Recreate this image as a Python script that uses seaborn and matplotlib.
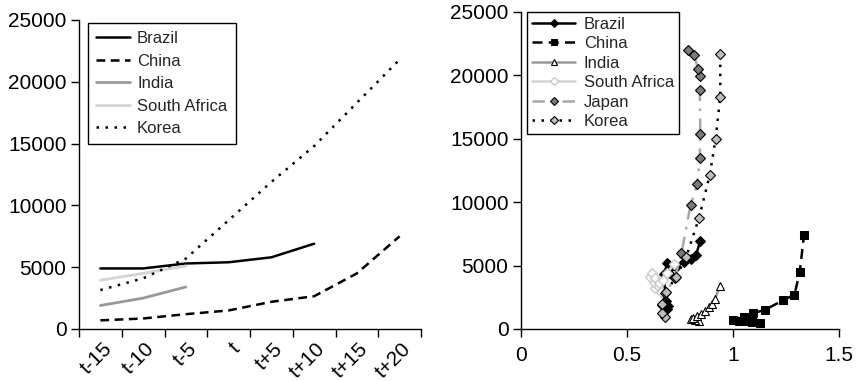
import numpy as np
import pandas as pd
import matplotlib
matplotlib.use("Agg")
import matplotlib.pyplot as plt
import matplotlib.transforms as mtransforms
import seaborn as sns

# ---------------- data: left panel (GDP per capita by period) ----------------
periods = ["t-15", "t-10", "t-5", "t", "t+5", "t+10", "t+15", "t+20"]
brazil_left = [4900, 4900, 5300, 5400, 5800, 6900]
china_left = [700, 850, 1200, 1500, 2200, 2650, 4500, 7500]
india_left = [1900, 2500, 3400]
safrica_left = [3950, 4500, 5100]
korea_left = [3150, 4100, 5700, 8800, 11900, 14800, 18300, 21800]

# ---------------- data: right panel (ratio vs GDP per capita) ----------------
brazil_x = [0.69, 0.695, 0.685, 0.68, 0.675, 0.69, 0.70, 0.73, 0.77, 0.80, 0.825, 0.845]
brazil_y = [1600, 1800, 2200, 2800, 4300, 5200, 4400, 4900, 5300, 5500, 5800, 6900]
china_x = [1.125, 1.09, 1.06, 1.03, 1.0, 1.05, 1.095, 1.15, 1.235, 1.29, 1.315, 1.335]
china_y = [450, 550, 600, 650, 700, 950, 1250, 1500, 2250, 2700, 4500, 7400]
india_x = [0.84, 0.82, 0.80, 0.81, 0.83, 0.85, 0.87, 0.885, 0.90, 0.915, 0.94]
india_y = [600, 700, 800, 900, 1000, 1200, 1400, 1700, 2000, 2400, 3400]
safrica_x = [0.66, 0.63, 0.64, 0.625, 0.61, 0.62, 0.63, 0.65, 0.67, 0.69, 0.72]
safrica_y = [2900, 3200, 3500, 3700, 4100, 4400, 4000, 3600, 3900, 4400, 5100]
japan_x = [0.665, 0.68, 0.725, 0.757, 0.80, 0.832, 0.843, 0.846, 0.843, 0.846, 0.835, 0.816, 0.788]
japan_y = [1900, 2800, 4000, 5950, 9800, 11400, 13500, 15400, 18800, 19900, 20500, 21600, 22000]
korea_x = [0.68, 0.665, 0.665, 0.685, 0.73, 0.78, 0.84, 0.89, 0.918, 0.94, 0.94]
korea_y = [950, 1300, 2000, 2900, 4100, 5700, 8770, 12100, 15000, 18300, 21700]

# ---------------- style ----------------
sns.set_theme(style="ticks")
plt.rcParams['font.family'] = ['Liberation Sans', 'DejaVu Sans']
plt.rcParams['axes.edgecolor'] = 'black'
plt.rcParams['xtick.color'] = 'black'
plt.rcParams['ytick.color'] = 'black'

TICK_FS = 15
LEG_FS = 12

fig = plt.figure(figsize=(8.58, 3.81), dpi=100)
W, H = 858, 381
axL = fig.add_axes([79 / W, 1 - 329 / H, (421 - 79) / W, (329 - 20) / H])
axR = fig.add_axes([521 / W, 1 - 329 / H, (839 - 521) / W, (329 - 11.7) / H])

# ---------------- left panel ----------------
left_series = [
    ("Brazil", brazil_left, dict(color='black', linestyle='-', linewidth=1.8)),
    ("China", china_left, dict(color='black', linestyle=(0, (3.5, 2.2)), linewidth=1.8)),
    ("India", india_left, dict(color='#999999', linestyle='-', linewidth=2.0)),
    ("South Africa", safrica_left, dict(color='#d4d4d4', linestyle='-', linewidth=2.0)),
    ("Korea", korea_left, dict(color='black', linestyle=(0, (1, 2.6)), linewidth=1.8)),
]
for name, vals, st in left_series:
    pos = np.arange(len(vals)) + 0.5
    df = pd.DataFrame({"period": pos, "value": vals})
    sns.lineplot(data=df, x="period", y="value", ax=axL, label=name, **st)

axL.set_xlim(0, len(periods))
axL.set_ylim(0, 25000)
axL.set_yticks(np.arange(0, 25001, 5000))
axL.set_xticks(np.arange(0, len(periods) + 1))
axL.set_xticklabels([])
axL.set_xticks(np.arange(len(periods)) + 0.5, minor=True)
axL.set_xticklabels(periods, minor=True, rotation=45, ha='right', va='center',
                    rotation_mode='anchor', fontsize=TICK_FS)
axL.tick_params(axis='x', which='minor', length=0, pad=12)
axL.tick_params(axis='x', which='major', length=6, width=1, direction='out')
axL.tick_params(axis='y', length=6, width=1, direction='out', labelsize=TICK_FS, pad=3)
for lab in axL.get_xticklabels(minor=True):
    lab.set_transform(lab.get_transform() + mtransforms.ScaledTranslation(6 / 72, 0, fig.dpi_scale_trans))
axL.set_xlabel("")
axL.set_ylabel("")
sns.despine(ax=axL)
for sp in ['left', 'bottom']:
    axL.spines[sp].set_linewidth(1.0)

legL = axL.legend(loc='upper left', bbox_to_anchor=(0.026, 0.991), borderaxespad=0,
                  fontsize=LEG_FS, frameon=True, fancybox=False, framealpha=1,
                  edgecolor='black', labelspacing=0.45, handlelength=2.0,
                  handletextpad=0.45, borderpad=0.5)
legL.get_frame().set_linewidth(1.0)

# ---------------- right panel ----------------
right_series = [
    ("Brazil", brazil_x, brazil_y,
     dict(color='black', linestyle='-', linewidth=1.8, marker='D', markersize=5,
          markerfacecolor='black', markeredgecolor='black')),
    ("China", china_x, china_y,
     dict(color='black', linestyle=(0, (4, 2.5)), linewidth=1.8, marker='s', markersize=5.5,
          markerfacecolor='black', markeredgecolor='black')),
    ("India", india_x, india_y,
     dict(color='#999999', linestyle='-', linewidth=1.8, marker='^', markersize=5.5,
          markerfacecolor='white', markeredgecolor='black', markeredgewidth=0.8)),
    ("South Africa", safrica_x, safrica_y,
     dict(color='#d4d4d4', linestyle='-', linewidth=1.8, marker='D', markersize=5.5,
          markerfacecolor='white', markeredgecolor='#c8c8c8', markeredgewidth=1.0)),
    ("Japan", japan_x, japan_y,
     dict(color='#a8a8a8', linestyle=(0, (5, 3, 1, 3)), linewidth=1.8, marker='D', markersize=5.5,
          markerfacecolor='#7a7a7a', markeredgecolor='black', markeredgewidth=0.8)),
    ("Korea", korea_x, korea_y,
     dict(color='black', linestyle=(0, (1, 2.6)), linewidth=1.8, marker='D', markersize=5.5,
          markerfacecolor='#bdbdbd', markeredgecolor='black', markeredgewidth=0.8)),
]
for name, xs, ys, st in right_series:
    df = pd.DataFrame({"ratio": xs, "value": ys})
    sns.lineplot(data=df, x="ratio", y="value", ax=axR, label=name, sort=False,
                 estimator=None, **st)

axR.set_xlim(0, 1.5)
axR.set_ylim(0, 25000)
axR.set_xticks([0, 0.5, 1, 1.5])
axR.set_xticklabels(["0", "0.5", "1", "1.5"])
axR.set_yticks(np.arange(0, 25001, 5000))
axR.tick_params(axis='both', length=6, width=1, direction='out', labelsize=TICK_FS)
axR.tick_params(axis='x', pad=6)
axR.tick_params(axis='y', pad=3)
axR.set_xlabel("")
axR.set_ylabel("")
sns.despine(ax=axR)
for sp in ['left', 'bottom']:
    axR.spines[sp].set_linewidth(1.0)

legR = axR.legend(loc='upper left', bbox_to_anchor=(0.019, 1.0), borderaxespad=0,
                  fontsize=LEG_FS, frameon=True, fancybox=False, framealpha=1,
                  edgecolor='black', labelspacing=0.27, handlelength=2.6,
                  handletextpad=0.5, borderpad=0.3, markerscale=0.75)
legR.get_frame().set_linewidth(1.0)

fig.savefig("out.png", dpi=100)
